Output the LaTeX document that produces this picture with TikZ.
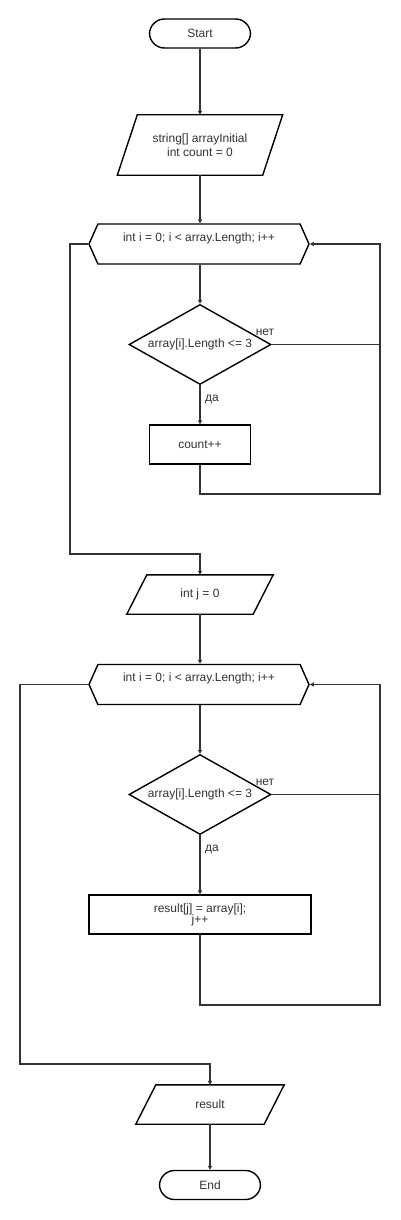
\documentclass[tikz,border=0pt]{standalone}
\usepackage{fontspec}
\setmainfont{Liberation Sans}
\usetikzlibrary{arrows.meta,shapes.geometric,shapes.symbols}
\definecolor{fcink}{HTML}{000000}
\definecolor{fctext}{HTML}{333333}
\definecolor{fcline}{HTML}{333333}
\tikzset{
  fcbase/.style={
    draw=fcink,
    line width=1.4pt,
    fill=white,
    align=center,
    inner sep=0pt,
    font=\fontsize{12}{14}\selectfont,
    text=fctext
  },
  fcframe/.style={draw=fcink, line width=1.4pt},
  fcterm/.style={fcbase, rectangle, rounded corners=15pt,
    minimum width=101pt, minimum height=29pt},
  fcio/.style={
    rectangle,
    align=center,
    inner sep=0pt,
    font=\fontsize{12}{14}\selectfont,
    text=fctext,
    minimum width=146pt,
    minimum height=39pt,
    append after command={\pgfextra{
      \draw[fcframe] ([xshift=20pt]\tikzlastnode.north west)
        -- (\tikzlastnode.north east)
        -- ([xshift=-20pt]\tikzlastnode.south east)
        -- (\tikzlastnode.south west) -- cycle;}}
  },
  fcloop/.style={fcbase, signal, signal to=west and east,
    signal pointer angle=132, minimum width=220pt, minimum height=40pt},
  fcdecide/.style={fcbase, diamond, minimum width=142pt, minimum height=80pt},
  fcproc/.style={fcbase, rectangle, minimum width=101pt, minimum height=39pt},
  fclabel/.style={
    inner sep=0pt,
    font=\fontsize{12}{14}\selectfont,
    text=fctext
  },
  fcwire/.style={line width=1.2pt, color=fcline},
  fcedge/.style={fcwire, -{Triangle[length=4pt,width=4pt]}}
}

\begin{document}
\begin{tikzpicture}[x=1pt,y=-1pt]
  \fill[white] (0,0) rectangle (400,1220);

  % first loop
  \node[fcterm] (start) at (200,33.5) {Start};
  \node[fcio, minimum width=165pt, minimum height=60pt] (in1) at (200,145)
    {string[] arrayInitial\\int count = 0};
  \node[fcloop] (loop1) at (199,244) {int i = 0; i < array.Length; i++\\~};
  \node[fcdecide] (d1) at (200,344.5) {\makebox[0pt]{array[i].Length <= 3}};
  \node[fcproc] (cnt) at (200,444.5) {count++};

  \coordinate (r1) at (380,494);
  \coordinate (l1) at (70,554);

  % second loop
  \node[fcio] (in2) at (200,594.5) {int j = 0};
  \node[fcloop] (loop2) at (199,684.5) {int i = 0; i < array.Length; i++\\~};
  \node[fcdecide] (d2) at (200,794.5) {\makebox[0pt]{array[i].Length <= 3}};
  \node[fcproc, minimum width=222pt] (res) at (200,914.5)
    {result[j] = array[i];\\[-3pt]j++};

  \coordinate (r2) at (380,1005);
  \coordinate (l2) at (20,1064);

  \node[fcio, minimum width=148pt] (outres) at (210,1104.5) {result};
  \node[fcterm] (stop) at (210,1185) {End};

  \node[fclabel] (no1) at (265,332) {нет};
  \node[fclabel] (yes1) at (212,399) {да};
  \node[fclabel] (no2) at (265,782) {нет};
  \node[fclabel] (yes2) at (212,849) {да};

  \draw[fcedge] (start) -- (in1);
  \draw[fcedge] (in1) -- (loop1.north -| in1);
  \draw[fcedge] (loop1.south -| d1) -- (d1);
  \draw[fcedge] (d1) -- (cnt);
  \draw[fcwire] (d1.east) -- (d1.east -| r1);
  \draw[fcedge] (cnt.south) |- (r1) |- (loop1.east);
  \draw[fcedge] (loop1.west) -| (l1) -| (in2.north);

  \draw[fcedge] (in2) -- (loop2.north -| in2);
  \draw[fcedge] (loop2.south -| d2) -- (d2);
  \draw[fcedge] (d2) -- (res);
  \draw[fcwire] (d2.east) -- (d2.east -| r2);
  \draw[fcedge] (res.south) |- (r2) |- (loop2.east);
  \draw[fcedge] (loop2.west) -| (l2) -| (outres.north);
  \draw[fcedge] (outres) -- (stop);
\end{tikzpicture}
\end{document}
